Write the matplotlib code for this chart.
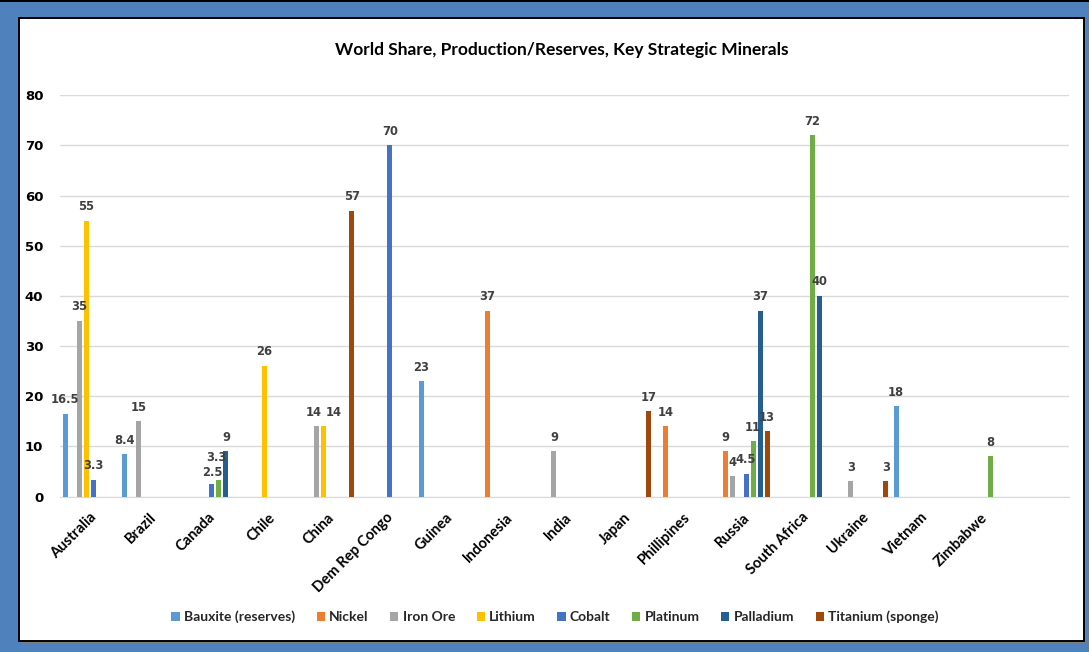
import numpy as np
import matplotlib.pyplot as plt
from matplotlib.patches import Rectangle, Patch

nan = np.nan

countries = ['Australia', 'Brazil', 'Canada', 'Chile', 'China', 'Dem Rep Congo',
             'Guinea', 'Indonesia', 'India', 'Japan', 'Phillipines', 'Russia',
             'South Africa', 'Ukraine', 'Vietnam', 'Zimbabwe', '']

series = ['Bauxite (reserves)', 'Nickel', 'Iron Ore', 'Lithium', 'Cobalt',
          'Platinum', 'Palladium', 'Titanium (sponge)']
colors = ['#5B9BD5', '#ED7D31', '#A5A5A5', '#FFC000', '#4472C4',
          '#70AD47', '#255E91', '#9E480E']

#            Aus   Bra  Can  Chi  Chn  DRC  Gui  Ind  Inda Jap  Phi  Rus  SA   Ukr  Vie  Zim  -
bauxite   = [16.5, 8.4, nan, nan, nan, nan, 23,  nan, nan, nan, nan, nan, nan, nan, 18,  nan, nan]
nickel    = [nan,  nan, nan, nan, nan, nan, nan, 37,  nan, nan, 14,  9,   nan, nan, nan, nan, nan]
iron_ore  = [35,   15,  nan, nan, 14,  nan, nan, nan, 9,   nan, nan, 4,   nan, 3,   nan, nan, nan]
lithium   = [55,   nan, nan, 26,  14,  nan, nan, nan, nan, nan, nan, nan, nan, nan, nan, nan, nan]
cobalt    = [3.3,  nan, 2.5, nan, nan, 70,  nan, nan, nan, nan, nan, 4.5, nan, nan, nan, nan, nan]
platinum  = [nan,  nan, 3.3, nan, nan, nan, nan, nan, nan, nan, nan, 11,  72,  nan, nan, 8,   nan]
palladium = [nan,  nan, 9,   nan, nan, nan, nan, nan, nan, nan, nan, 37,  40,  nan, nan, nan, nan]
titanium  = [nan,  nan, nan, nan, 57,  nan, nan, nan, nan, 17,  nan, 13,  nan, 3,   nan, nan, nan]

data = [bauxite, nickel, iron_ore, lithium, cobalt, platinum, palladium, titanium]

# label nudges (points) where Excel moved crowded labels: (series, country) -> (dx, dy)
nudge = {(2, 4): (-2, 0), (3, 4): (7, 0), (4, 2): (0, -2), (5, 2): (-2, 6)}

fig = plt.figure(figsize=(10.89, 6.52), dpi=100)
fig.patch.set_facecolor('#4F81BD')

# white panel with black outline
fig.patches.append(Rectangle((21 / 1089, 1 - 643 / 652), 1065 / 1089, 623 / 652,
                             transform=fig.transFigure, facecolor='#7f7f7f',
                             edgecolor='none', zorder=0))
fig.patches.append(Rectangle((19 / 1089, 1 - 641 / 652), 1065 / 1089, 623 / 652,
                             transform=fig.transFigure, facecolor='white',
                             edgecolor='black', linewidth=1.4, zorder=1))
fig.patches.append(Rectangle((0, 1 - 2 / 652), 1, 2 / 652, transform=fig.transFigure,
                             facecolor='black', edgecolor='none', zorder=1))

ax = fig.add_axes([60 / 1089, 155.5 / 652, 1009 / 1089, 401.2 / 652])
ax.set_facecolor('none')
ax.set_zorder(5)

x = np.arange(len(countries))
step = 7 / 59.35
width = 5 / 59.35
for i, (vals, c) in enumerate(zip(data, colors)):
    vals = np.array(vals, dtype=float)
    xs = x + (i - 3.5) * step
    ax.bar(xs, vals, width=width, color=c, zorder=3)
    for j, (xi, v) in enumerate(zip(xs, vals)):
        if not np.isnan(v):
            dx, dy = nudge.get((i, j), (0, 0))
            ax.annotate(f'{v:g}', (xi, v), xytext=(dx, 5.5 + dy), textcoords='offset points',
                        ha='center', va='bottom', fontsize=8.3, fontweight='bold',
                        color='#404040', zorder=4)

ax.set_xlim(-0.5, len(countries) - 0.5)
ax.set_ylim(0, 80)
ax.set_yticks(range(0, 81, 10))
ax.yaxis.grid(True, color='#D9D9D9', linewidth=1, zorder=0)
for s in ['top', 'right', 'left']:
    ax.spines[s].set_visible(False)
ax.spines['bottom'].set_color('#D9D9D9')
ax.tick_params(length=0)
ax.tick_params(axis='y', labelsize=9.5, pad=12)
for lab in ax.get_yticklabels():
    lab.set_fontweight('bold')

ax.set_xticks(x)
ax.set_xticklabels(countries, rotation=45, ha='right', rotation_mode='anchor',
                   fontsize=10.5, fontweight='bold', family='Lato')
ax.tick_params(axis='x', pad=10)

fig.text(562 / 1089, 1 - 50 / 652, 'World Share, Production/Reserves, Key Strategic Minerals',
         ha='center', va='center', fontsize=12.5, fontweight='bold', family='Lato')

handles = [Patch(facecolor=c, edgecolor='none') for c in colors]
fig.legend(handles, series, loc='center', bbox_to_anchor=(555 / 1089, 1 - 617 / 652),
           ncol=8, frameon=False, handlelength=0.6, handleheight=0.6,
           handletextpad=0.3, columnspacing=1.55, labelcolor='#262626',
           prop={'family': 'Lato', 'weight': 'bold', 'size': 10})

fig.savefig('out.png', dpi=100, facecolor=fig.get_facecolor())
